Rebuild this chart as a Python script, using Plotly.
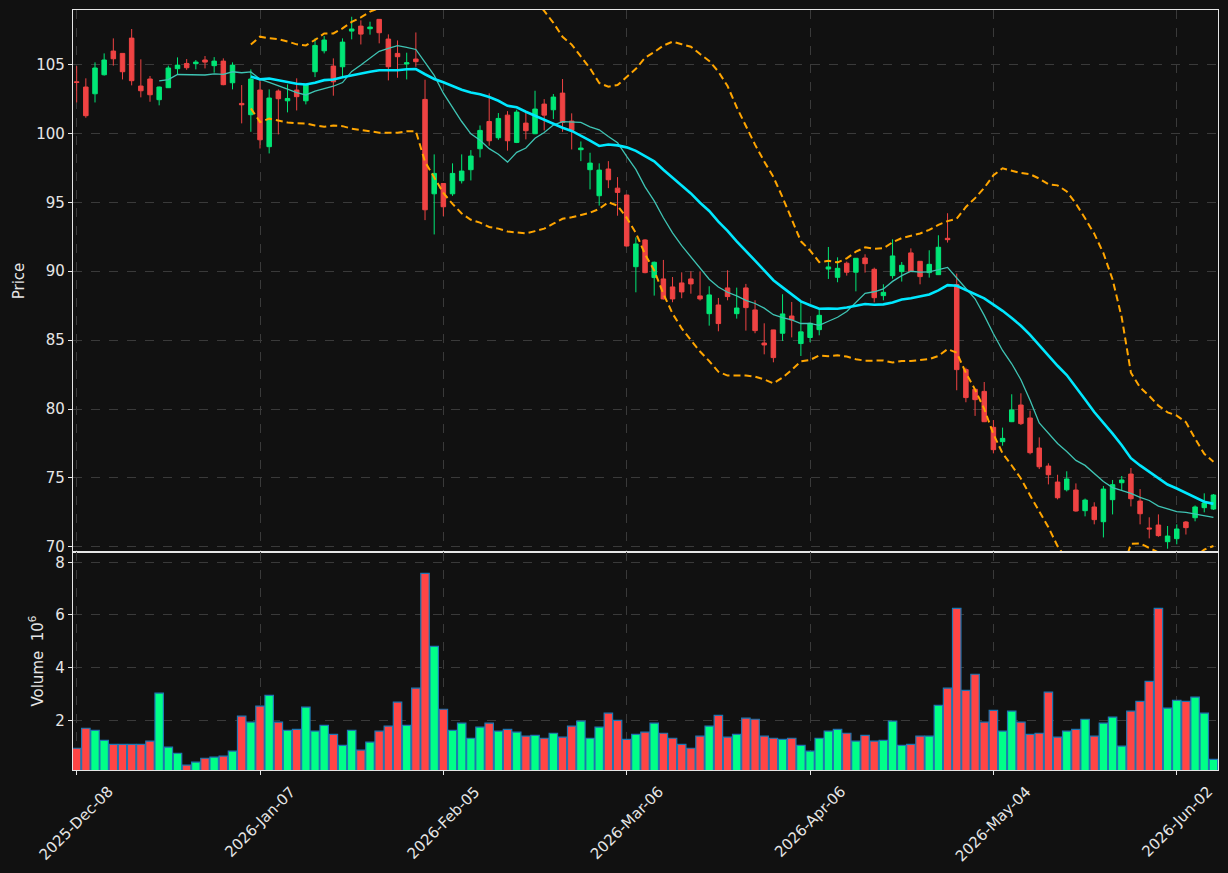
import pandas as pd
import plotly.graph_objects as go
from plotly.subplots import make_subplots

# ---- data ----
market_holidays = ["2025-12-25", "2026-01-01", "2026-01-19", "2026-02-16", "2026-04-03", "2026-05-25"]
first_day = "2025-12-08"
last_day = "2026-06-08"

open_ = [103.75, 103.37, 102.88, 104.26, 105.98, 105.81, 106.92, 103.44, 103.95, 102.45,
         103.32, 104.70, 105.08, 105.06, 105.33, 104.92, 105.25, 103.68, 102.18, 101.36,
         103.15, 99.04, 103.08, 102.37, 103.15, 102.37, 104.48, 106.00, 104.89, 104.84,
         107.43, 107.79, 107.60, 108.28, 106.85, 105.81, 105.04, 105.40, 102.47, 95.62,
         96.37, 95.62, 96.57, 97.37, 98.89, 100.87, 99.69, 101.33, 99.35, 100.75,
         99.98, 102.13, 101.72, 102.93, 100.90, 98.82, 97.37, 95.48, 97.42, 96.03,
         95.53, 90.33, 92.27, 89.54, 89.44, 88.86, 89.15, 89.44, 88.21, 86.92,
         87.55, 88.79, 86.92, 88.79, 87.19, 84.79, 85.74, 85.50, 86.75, 84.75,
         85.19, 85.76, 90.16, 89.56, 90.58, 89.93, 90.96, 90.14, 88.23, 89.68,
         89.97, 91.33, 90.72, 89.90, 89.75, 92.39, 89.03, 82.86, 81.43, 81.28,
         78.67, 77.63, 79.08, 80.29, 79.35, 77.17, 75.86, 74.70, 74.14, 74.12,
         72.62, 72.89, 71.82, 73.42, 74.65, 75.28, 73.32, 71.36, 71.58, 70.37,
         70.59, 71.80, 72.11, 72.84, 72.74]
high = [104.89, 104.00, 105.16, 105.81, 106.90, 105.81, 107.58, 105.38, 104.17, 103.40,
        104.92, 105.52, 105.40, 105.33, 105.62, 105.54, 105.45, 105.16, 103.51, 104.65,
        103.87, 103.20, 103.20, 103.56, 104.00, 103.60, 106.90, 107.07, 105.45, 106.90,
        108.47, 108.21, 108.11, 108.30, 107.19, 106.75, 105.86, 107.33, 103.90, 98.48,
        96.40, 97.83, 98.48, 98.79, 100.58, 102.91, 101.48, 101.62, 101.72, 101.55,
        103.10, 102.49, 102.86, 103.95, 101.46, 99.42, 98.60, 97.83, 97.99, 96.83,
        95.55, 92.46, 92.32, 90.70, 90.82, 89.58, 89.92, 89.99, 89.99, 88.91,
        88.06, 90.07, 88.81, 89.08, 87.89, 86.22, 85.75, 88.33, 87.77, 87.80,
        86.27, 87.26, 91.76, 91.01, 90.70, 90.95, 91.23, 90.26, 89.05, 92.32,
        90.67, 91.66, 90.72, 91.52, 92.61, 94.21, 89.83, 83.00, 81.45, 81.96,
        79.20, 78.65, 81.07, 81.14, 79.88, 77.94, 76.06, 75.23, 75.48, 74.60,
        73.50, 73.23, 74.41, 74.85, 75.14, 75.72, 74.19, 72.14, 72.35, 71.51,
        71.63, 71.87, 73.00, 73.88, 73.83]
low = [102.25, 101.14, 102.25, 104.20, 104.92, 103.92, 103.49, 102.62, 102.30, 102.04,
       103.30, 104.31, 104.62, 104.65, 104.72, 104.41, 103.50, 103.20, 100.73, 100.12,
       98.91, 98.55, 99.93, 101.53, 101.67, 102.11, 104.09, 105.81, 102.74, 104.17,
       106.83, 106.46, 107.17, 106.54, 103.85, 104.04, 103.92, 104.84, 93.71, 92.67,
       94.00, 95.47, 96.37, 96.59, 98.26, 99.11, 99.54, 98.75, 99.30, 99.57,
       99.95, 100.22, 101.04, 100.12, 98.84, 97.99, 95.94, 94.76, 96.03, 94.03,
       91.80, 88.47, 89.85, 88.23, 87.95, 87.75, 88.04, 88.37, 87.87, 86.05,
       85.64, 87.89, 86.56, 85.69, 85.50, 83.97, 83.39, 84.94, 85.20, 83.85,
       84.85, 85.35, 89.44, 89.20, 89.68, 88.54, 89.90, 87.74, 87.89, 89.46,
       89.25, 89.95, 89.05, 89.54, 89.73, 92.08, 81.36, 80.49, 79.50, 79.05,
       76.78, 77.34, 79.05, 78.84, 76.71, 75.64, 74.53, 73.44, 74.02, 72.55,
       72.21, 71.63, 70.68, 72.35, 74.10, 72.93, 71.63, 70.61, 70.73, 69.86,
       70.18, 70.89, 71.85, 72.50, 72.67]
close = [103.70, 101.29, 104.75, 105.33, 105.42, 104.48, 103.83, 103.10, 102.81, 103.37,
         104.75, 104.96, 104.77, 105.18, 105.18, 105.25, 103.54, 104.96, 102.08, 103.95,
         99.54, 102.57, 102.52, 102.54, 102.67, 103.56, 106.39, 106.78, 103.75, 106.63,
         107.58, 107.21, 107.72, 107.31, 104.84, 105.57, 105.13, 105.21, 94.46, 97.10,
         94.68, 97.10, 97.27, 98.36, 100.22, 99.47, 101.09, 99.47, 101.55, 100.20,
         101.77, 101.33, 102.64, 100.80, 100.22, 98.94, 97.85, 97.34, 96.64, 95.72,
         91.83, 91.98, 89.90, 90.65, 87.99, 87.99, 88.50, 89.08, 87.99, 88.28,
         86.20, 88.16, 87.33, 87.36, 85.69, 84.65, 83.73, 86.90, 86.46, 85.60,
         86.22, 86.80, 90.31, 90.21, 89.93, 90.94, 90.55, 88.08, 88.47, 91.11,
         90.43, 89.97, 89.61, 90.50, 91.74, 92.29, 82.86, 80.83, 80.68, 79.08,
         77.05, 77.87, 79.93, 78.94, 76.83, 75.81, 75.23, 73.56, 74.92, 72.60,
         73.39, 71.97, 74.19, 74.51, 74.85, 73.49, 72.40, 71.30, 70.81, 70.78,
         71.29, 71.39, 72.89, 73.18, 73.76]
volume_millions = [0.94, 1.70, 1.62, 1.24, 1.09, 1.09, 1.09, 1.09, 1.21, 3.03,
                   0.98, 0.75, 0.30, 0.41, 0.56, 0.60, 0.64, 0.83, 2.16, 1.93,
                   2.54, 2.95, 1.93, 1.62, 1.66, 2.50, 1.59, 1.81, 1.47, 1.05,
                   1.62, 0.87, 1.17, 1.59, 1.78, 2.69, 1.81, 3.22, 7.58, 4.81,
                   2.42, 1.62, 1.89, 1.32, 1.74, 1.89, 1.59, 1.66, 1.55, 1.40,
                   1.43, 1.32, 1.51, 1.36, 1.78, 1.97, 1.32, 1.74, 2.27, 2.00,
                   1.28, 1.47, 1.55, 1.89, 1.51, 1.32, 1.09, 0.94, 1.40, 1.78,
                   2.19, 1.36, 1.47, 2.08, 2.04, 1.40, 1.32, 1.28, 1.32, 1.05,
                   0.83, 1.32, 1.59, 1.66, 1.51, 1.21, 1.43, 1.21, 1.24, 1.97,
                   1.05, 1.09, 1.40, 1.40, 2.57, 3.22, 6.25, 3.14, 3.75, 1.93,
                   2.38, 1.59, 2.35, 1.93, 1.47, 1.51, 3.07, 1.36, 1.59, 1.66,
                   2.04, 1.40, 1.89, 2.12, 1.02, 2.35, 2.72, 3.48, 6.25, 2.46,
                   2.76, 2.72, 2.88, 2.27, 0.52]
short_window = 10
long_window = 20
band_width_sd = 2

# ---- derived series ----
trading_days = pd.bdate_range(first_day, last_day, freq="C", holidays=market_holidays)
dates = [d.strftime("%Y-%b-%d") for d in trading_days][: len(close)]
tick_labels = dates[::20]

close_s = pd.Series(close)
sma_short = close_s.rolling(short_window).mean()
sma_long = close_s.rolling(long_window).mean()
sd_long = close_s.rolling(long_window).std()
upper_band = sma_long + band_width_sd * sd_long
lower_band = sma_long - band_width_sd * sd_long

UP = "#00e676"
DOWN = "#ef4343"
VUP = "#00ff88"
VDOWN = "#ff4545"
FG = "#e6e6e6"
BG = "#111111"
FONT = "DejaVu Sans"
FS = 15
vol_colors = [VUP if c >= o else VDOWN for o, c in zip(open_, close)]

fig = make_subplots(rows=2, cols=1, shared_xaxes=True, vertical_spacing=0,
                    row_heights=[0.7132, 0.2868])

fig.add_trace(go.Candlestick(
    x=dates, open=open_, high=high, low=low, close=close,
    increasing=dict(line=dict(color=UP, width=1), fillcolor=UP),
    decreasing=dict(line=dict(color=DOWN, width=1), fillcolor=DOWN),
    whiskerwidth=0, showlegend=False), row=1, col=1)

fig.add_trace(go.Scatter(x=dates, y=sma_short, mode="lines",
                         line=dict(color="#3fc4b4", width=1.3), showlegend=False), row=1, col=1)
fig.add_trace(go.Scatter(x=dates, y=sma_long, mode="lines",
                         line=dict(color="#00e8ff", width=2.6), showlegend=False), row=1, col=1)
for band in (upper_band, lower_band):
    fig.add_trace(go.Scatter(x=dates, y=band, mode="lines",
                             line=dict(color="#ffa500", width=2, dash="7px,4px"),
                             showlegend=False), row=1, col=1)

fig.add_trace(go.Bar(x=dates, y=volume_millions,
                     marker=dict(color=vol_colors, line=dict(color="#1f77b4", width=1.2)),
                     showlegend=False), row=2, col=1)

axis_common = dict(showline=True, linecolor=FG, linewidth=1.3, mirror=True,
                   ticks="outside", tickcolor=FG, ticklen=4, tickwidth=1,
                   showgrid=True, gridcolor="#3a3a3a", griddash="dash", gridwidth=1,
                   zeroline=False,
                   tickfont=dict(family=FONT, size=FS, color=FG))

fig.update_xaxes(**axis_common)
fig.update_yaxes(**axis_common)
fig.update_xaxes(type="category", range=[-0.4, 124.5], tickvals=tick_labels,
                 ticktext=tick_labels, showticklabels=False,
                 rangeslider=dict(visible=False))

fig.update_yaxes(range=[69.62, 108.96], tickvals=[70, 75, 80, 85, 90, 95, 100, 105],
                 title=dict(text="Price", font=dict(family=FONT, size=FS, color=FG),
                            standoff=7),
                 row=1, col=1)
fig.update_yaxes(range=[0.114, 8.39], tickvals=[2, 4, 6, 8],
                 title=dict(text="Volume  10<sup>6</sup>",
                            font=dict(family=FONT, size=FS, color=FG), standoff=8),
                 row=2, col=1)

# rotated date labels centred under their ticks (matplotlib-style)
for lab in tick_labels:
    fig.add_annotation(x=lab, xref="x2", y=0, yref="paper", yshift=-10,
                       text=lab, textangle=-45, showarrow=False,
                       xanchor="center", yanchor="top",
                       font=dict(family=FONT, size=FS, color=FG))

fig.update_layout(width=1228, height=873,
                  margin=dict(l=73, r=10, t=10, b=103),
                  paper_bgcolor=BG, plot_bgcolor=BG,
                  bargap=0.08, showlegend=False,
                  font=dict(family=FONT, color=FG))

fig.write_html("out.html")
